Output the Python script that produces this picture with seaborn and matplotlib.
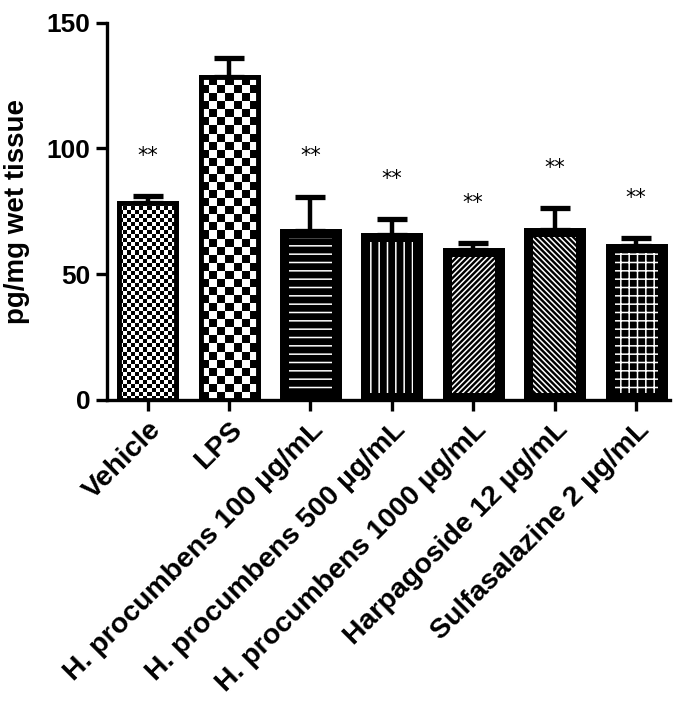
"""
Cytokine level per treatment group, bar chart with patterned fills.
"""

import numpy as np
import pandas as pd
import seaborn as sns
import matplotlib.pyplot as plt
from matplotlib.patches import Rectangle

groups = ["Vehicle", "LPS", "H. procumbens 100 µg/mL", "H. procumbens 500 µg/mL",
          "H. procumbens 1000 µg/mL", "Harpagoside 12 µg/mL", "Sulfasalazine 2 µg/mL"]
means = [78.4, 128.3, 67.0, 65.5, 59.5, 67.5, 61.0]
sems = [2.5, 7.5, 13.8, 6.5, 2.8, 8.8, 3.3]
stars = ["**", "", "**", "**", "**", "**", "**"]

# fill style per bar: ("checker", cell px) or ("hatch", pattern)
fills = [("checker", 4), ("checker", 8), ("hatch", "--"), ("hatch", "||"),
         ("hatch", "//////"), ("hatch", "\\" * 6), ("hatch", "++")]

sns.set_style("ticks")
plt.rcParams["font.family"] = ["Liberation Sans", "DejaVu Sans"]
plt.rcParams["text.color"] = "black"
plt.rcParams["xtick.color"] = "black"
plt.rcParams["ytick.color"] = "black"
plt.rcParams["axes.labelcolor"] = "black"
plt.rcParams["axes.edgecolor"] = "black"
plt.rcParams["hatch.color"] = "white"
plt.rcParams["hatch.linewidth"] = 1.1

df = pd.DataFrame({"group": groups, "value": means})

fig = plt.figure(figsize=(6.86, 7.09), dpi=100)
ax = fig.add_axes([0.156, 0.436, 0.821, 0.532])

sns.barplot(data=df, x="group", y="value", color="black", width=0.7,
            errorbar=None, ax=ax, zorder=3)
ax.set_ylim(0, 150)
ax.set_xlim(-0.5, 6.42)

ax.errorbar(range(len(means)), means, yerr=[np.zeros(len(sems)), sems], fmt="none",
            ecolor="black", elinewidth=3.2, capsize=11, capthick=3.8, zorder=2)

fig.canvas.draw()
px_per_y = ax.transData.transform((0, 1))[1] - ax.transData.transform((0, 0))[1]
px_per_x = ax.transData.transform((1, 0))[0] - ax.transData.transform((0, 0))[0]

for bar, (kind, spec) in zip(ax.patches, fills):
    bar.set_edgecolor("black")
    bar.set_linewidth(3.5)
    x0, w, h = bar.get_x(), bar.get_width(), bar.get_height()
    if kind == "checker":
        bar.set_facecolor("white")
        nx = int(round(w * px_per_x / spec))
        ny = int(round(h * px_per_y / spec))
        board = (np.indices((ny, nx)).sum(axis=0) % 2).astype(float)
        im = ax.imshow(board, cmap="gray", extent=(x0, x0 + w, 0, h), origin="lower",
                       interpolation="nearest", aspect="auto", zorder=3.5)
        im.set_clip_path(bar)
    else:
        bar.set_facecolor("black")
        padx = 7 / px_per_x
        pady = 7 / px_per_y
        ax.add_patch(Rectangle((x0 + padx, pady), w - 2 * padx, h - 2 * pady,
                               facecolor="none", edgecolor="white", linewidth=0,
                               hatch=spec, zorder=3.6))
    ax.add_patch(Rectangle((x0, 0), w, h, facecolor="none", edgecolor="black",
                           linewidth=3.5, zorder=3.8))

for i, (m, s, st) in enumerate(zip(means, sems, stars)):
    if st:
        ax.annotate(st, (i, m + s), xytext=(0, 29), textcoords="offset points",
                    ha="center", va="center", fontsize=15, family="DejaVu Sans")

ax.set_yticks([0, 50, 100, 150])
ax.set_xlabel("")
ax.set_ylabel("pg/mg wet tissue", fontsize=20, fontweight="bold", labelpad=12)
ax.set_xticks(range(len(groups)))
ax.set_xticklabels(groups, rotation=45, ha="right", rotation_mode="anchor",
                   fontsize=20.5, fontweight="bold")
for lab in ax.get_yticklabels():
    lab.set_fontsize(19)
    lab.set_fontweight("bold")
ax.tick_params(width=2.4, length=8, direction="out", pad=4)
sns.despine(ax=ax)
for side in ["left", "bottom"]:
    ax.spines[side].set_linewidth(2.4)

fig.savefig("out.png", dpi=100)
